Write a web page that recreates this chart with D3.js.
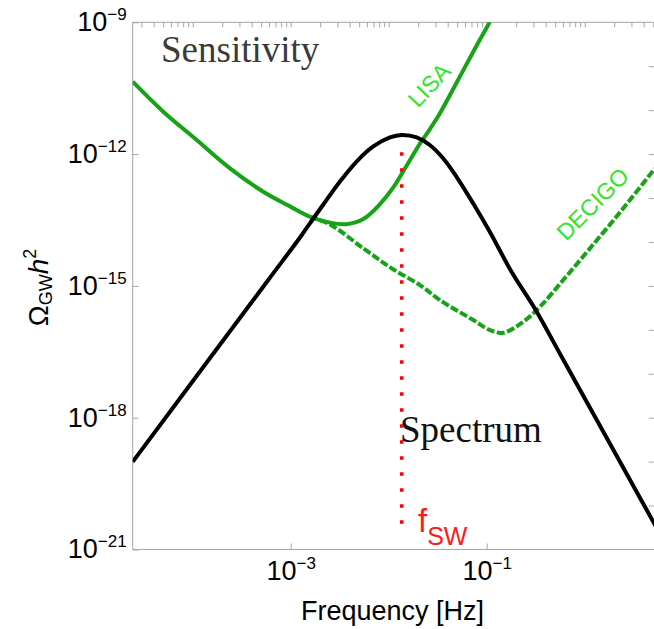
<!DOCTYPE html>
<html>
<head>
<meta charset="utf-8">
<script src="https://cdn.jsdelivr.net/npm/d3@7"></script>
<style>
  body { margin: 0; background: #fff; }
  svg { display: block; }
</style>
</head>
<body>
<div id="chart"></div>
<script>
// values are log10 exponents
const spectrum_f = [-4.612, -3.229, -2.901, -2.769, -2.667, -2.497, -2.327, -2.157, -1.987, -1.867,
    -1.714, -1.581, -1.443, -1.306, -1.137, -0.967, -0.745, -0.5, -0.245, 0.095, 0.435, 0.76]
const spectrum_omega = [-19.005, -14.866, -13.887, -13.466, -13.148, -12.624, -12.169, -11.827, -11.622, -11.565,
    -11.622, -11.793, -12.1, -12.522, -13.125, -13.774, -14.684, -15.549, -16.574, -17.939, -19.305, -20.61]

const lisa_f = [-4.612, -4.3, -3.959, -3.619, -3.28, -3.007, -2.803, -2.599, -2.429, -2.259, -2.089,
    -1.953, -1.816, -1.681, -1.579, -1.477, -1.306, -1.137, -0.967]
const lisa_omega = [-10.352, -11.035, -11.68, -12.324, -12.857, -13.19, -13.426, -13.56, -13.595, -13.48, -13.14,
    -12.76, -12.26, -11.76, -11.43, -11.07, -10.37, -9.67, -8.99]

const decigo_f = [-2.803, -2.599, -2.259, -1.969, -1.681, -1.477, -1.137, -0.967, -0.831, -0.627,
    -0.456, -0.219, 0.054, 0.394, 0.715]
const decigo_omega = [-13.43, -13.6, -14.146, -14.601, -14.981, -15.323, -15.778, -16.006, -16.067, -15.817,
    -15.475, -14.867, -14.146, -13.235, -12.33]

const f_sw = -1.867
const f_sw_line = [-12, -20.4]

const x_label_exps = [-3, -1]
const y_label_exps = [-21, -18, -15, -12, -9]
const right_tick_exps = [-20, -19, -18, -17, -16, -15, -14, -13, -12, -11, -10]
const x_domain_exps = [-4.612, 0.715]
const y_domain_exps = [-21, -9]

const margin = {top: 22.3, left: 132.7}
const width = 98 * (x_domain_exps[1] - x_domain_exps[0])
const height = 43.93 * (y_domain_exps[1] - y_domain_exps[0])

const svg = d3.select("#chart").append("svg")
    .attr("width", 654)
    .attr("height", 629)
    .style("font-family", "'Liberation Sans', Arial, sans-serif")

const g = svg.append("g")
    .attr("transform", "translate(" + margin.left + "," + margin.top + ")")

const x = d3.scaleLog()
    .domain(x_domain_exps.map(e => Math.pow(10, e)))
    .range([0, width])
const y = d3.scaleLog()
    .domain(y_domain_exps.map(e => Math.pow(10, e)))
    .range([height, 0])

const axis_color = "#a6a6a6"

// top minor ticks (log)
let top_ticks = []
for (let n = -5; n <= 0; n++) {
    for (let k = 1; k <= 9; k++) {
        const v = k * Math.pow(10, n)
        if (v >= x.domain()[0] && v <= x.domain()[1]) top_ticks.push(v)
    }
}

function sup_label(sel, e) {
    sel.text(null)
    sel.append("tspan").text("10")
    sel.append("tspan")
        .attr("dy", -11)
        .attr("font-size", 17)
        .text("\u2212" + Math.abs(e))
}

g.append("g")
    .call(d3.axisTop(x).tickValues(top_ticks).tickSizeInner(-5).tickSizeOuter(0).tickFormat(""))
    .call(a => a.select(".domain").remove())

g.append("g")
    .attr("transform", "translate(" + width + ",0)")
    .call(d3.axisRight(y).tickValues(right_tick_exps.map(e => Math.pow(10, e)))
        .tickSizeInner(-6).tickSizeOuter(0).tickFormat(""))
    .call(a => a.select(".domain").remove())

g.append("g")
    .call(d3.axisLeft(y).tickValues(y_label_exps.map(e => Math.pow(10, e)))
        .tickSizeInner(-6).tickSizeOuter(0).tickPadding(6))
    .call(a => a.select(".domain").remove())
    .call(a => a.selectAll(".tick text")
        .attr("dy", 8.5)
        .attr("font-size", 27)
        .attr("fill", "#000")
        .each(function (d) { sup_label(d3.select(this), Math.round(Math.log10(d))) }))

g.append("g")
    .attr("transform", "translate(0," + height + ")")
    .call(d3.axisBottom(x).tickValues(x_label_exps.map(e => Math.pow(10, e)))
        .tickSizeInner(-6).tickSizeOuter(0).tickPadding(30.5))
    .call(a => a.select(".domain").remove())
    .call(a => a.selectAll(".tick text")
        .attr("dy", null)
        .attr("font-size", 27)
        .attr("fill", "#000")
        .each(function (d) { sup_label(d3.select(this), Math.round(Math.log10(d))) }))

g.selectAll(".tick line").attr("stroke", axis_color)

// frame
g.append("rect")
    .attr("width", width)
    .attr("height", height)
    .attr("fill", "none")
    .attr("stroke", axis_color)
    .attr("stroke-width", 1)

g.append("clipPath").attr("id", "plotclip")
    .append("rect").attr("width", width).attr("height", height)

const plot = g.append("g").attr("clip-path", "url(#plotclip)")

const line = d3.line()
    .x(d => x(Math.pow(10, d[0])))
    .y(d => y(Math.pow(10, d[1])))
    .curve(d3.curveCatmullRom.alpha(0.5))

plot.append("path")
    .datum(d3.zip(decigo_f, decigo_omega))
    .attr("fill", "none")
    .attr("stroke", "#16a316")
    .attr("stroke-width", 4)
    .attr("stroke-dasharray", "8,2.5")
    .attr("d", line)

plot.append("path")
    .datum(d3.zip(lisa_f, lisa_omega))
    .attr("fill", "none")
    .attr("stroke", "#16a316")
    .attr("stroke-width", 4)
    .attr("d", line)

plot.append("path")
    .datum(d3.zip(spectrum_f, spectrum_omega))
    .attr("fill", "none")
    .attr("stroke", "#000")
    .attr("stroke-width", 4)
    .attr("d", line)

// f_sw marker
plot.append("line")
    .attr("x1", x(Math.pow(10, f_sw)))
    .attr("x2", x(Math.pow(10, f_sw)))
    .attr("y1", y(Math.pow(10, f_sw_line[0])) - 1.75)
    .attr("y2", y(Math.pow(10, f_sw_line[1])) + 2)
    .attr("stroke", "#ff0000")
    .attr("stroke-width", 3.5)
    .attr("stroke-dasharray", "3.5,12.5")

// labels
svg.append("text")
    .attr("x", 161)
    .attr("y", 61.7)
    .attr("font-family", "'Liberation Serif', 'Times New Roman', serif")
    .attr("font-size", 37)
    .attr("fill", "#3a3a3a")
    .text("Sensitivity")

svg.append("text")
    .attr("x", 400)
    .attr("y", 442.3)
    .attr("font-family", "'Liberation Serif', 'Times New Roman', serif")
    .attr("font-size", 37)
    .attr("fill", "#111")
    .text("Spectrum")

svg.append("text")
    .attr("transform", "translate(429,85) rotate(-47)")
    .attr("text-anchor", "middle")
    .attr("dy", "0.35em")
    .attr("font-size", 23)
    .attr("fill", "#2ee62e")
    .text("LISA")

svg.append("text")
    .attr("transform", "translate(592.5,204) rotate(-45)")
    .attr("text-anchor", "middle")
    .attr("dy", "0.35em")
    .attr("font-size", 23)
    .attr("fill", "#2ee62e")
    .text("DECIGO")

const fsw_label = svg.append("text")
    .attr("x", 418)
    .attr("y", 532)
    .attr("fill", "#ff1a1a")
fsw_label.append("tspan").attr("font-size", 33).text("f")
fsw_label.append("tspan").attr("font-size", 25).attr("dy", 13).text("SW")

svg.append("text")
    .attr("x", 392.5)
    .attr("y", 620)
    .attr("text-anchor", "middle")
    .attr("font-size", 27)
    .text("Frequency [Hz]")

const ylab = svg.append("text")
    .attr("transform", "translate(48,287.5) rotate(-90)")
    .attr("text-anchor", "middle")
    .attr("font-size", 28)
ylab.append("tspan").text("\u03A9")
ylab.append("tspan").attr("font-size", 18).attr("dy", 4).text("GW")
ylab.append("tspan").attr("font-style", "italic").attr("dy", -4).text("h")
ylab.append("tspan").attr("font-size", 18).attr("dy", -12).text("2")
</script>
</body>
</html>
